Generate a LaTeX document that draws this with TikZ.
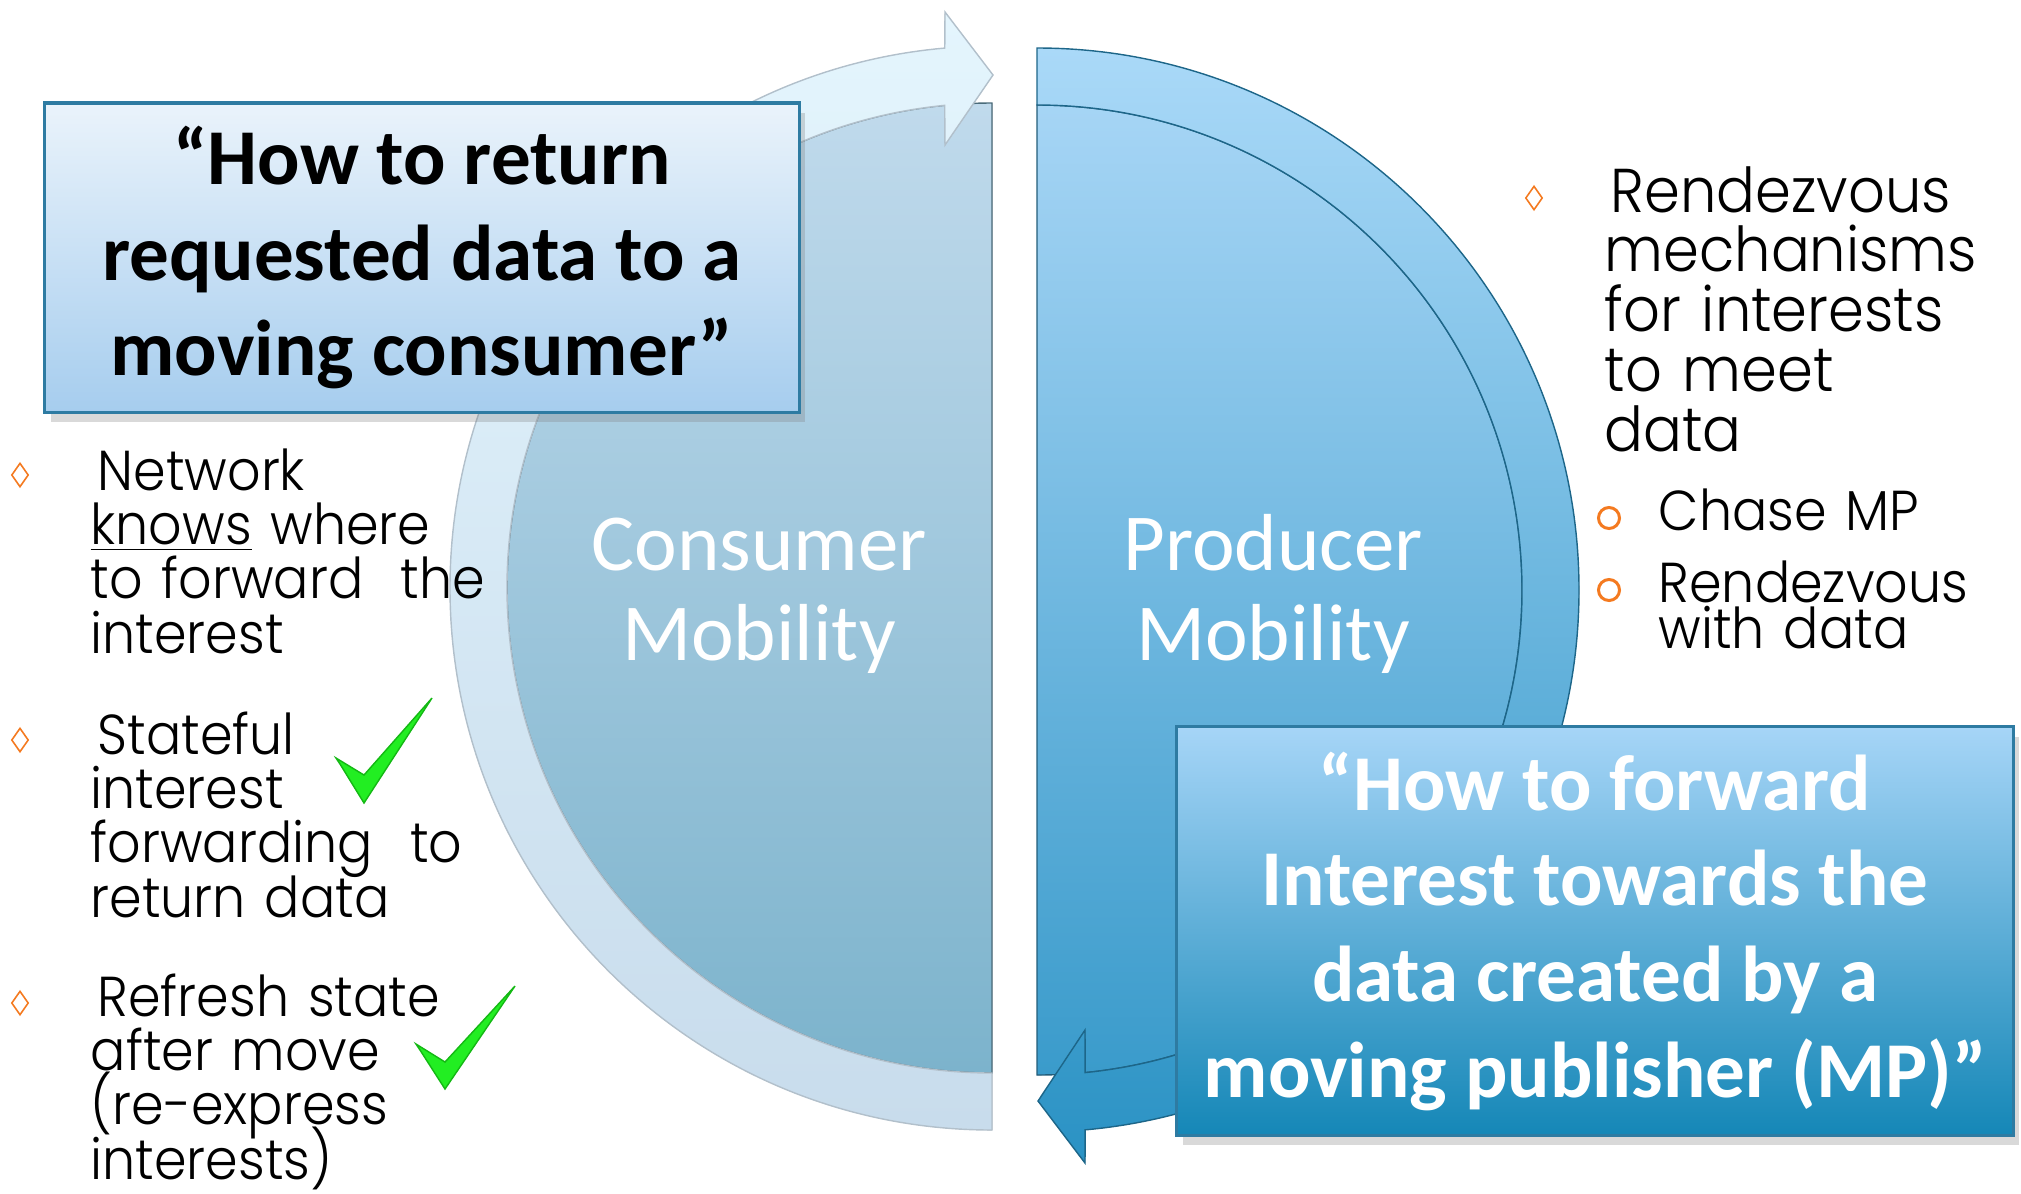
\documentclass[tikz,border=0pt]{standalone}
\usepackage{fontspec}
\usepackage{xcolor}
\usepackage{tikz}
\setmainfont{Carlito}
\newfontfamily\gothic[FakeStretch=0.93, UprightFont=* Light]{Poppins}
\newcommand{\tightskip}{\lineskiplimit=-20pt\relax}
\usetikzlibrary{shapes,positioning,shadows,calc}
\definecolor{leftringtop}{HTML}{E4F5FD}
\definecolor{leftringbot}{HTML}{C8DCEC}
\definecolor{leftdisctop}{HTML}{C0DAEC}
\definecolor{leftdiscbot}{HTML}{7CB3CC}
\definecolor{rightringtop}{HTML}{AAD9F8}
\definecolor{rightringbot}{HTML}{2A92C4}
\definecolor{rightdisctop}{HTML}{A6D5F5}
\definecolor{rightdiscbot}{HTML}{3A9BCB}
\definecolor{boxonetop}{HTML}{EAF3FB}
\definecolor{boxonebot}{HTML}{A6CDEE}
\definecolor{boxtwotop}{HTML}{A6D5F7}
\definecolor{boxtwobot}{HTML}{1587B7}
\definecolor{boxedge}{HTML}{2E7BA2}
\definecolor{bulletorange}{HTML}{F47A20}
\definecolor{checkgreen}{HTML}{22EE22}
\definecolor{checkedge}{HTML}{14B814}

\begin{document}
\begin{tikzpicture}[x=0.01cm, y=-0.01cm,
    listtext/.style={font=\gothic\fontsize{16}{15.45}\selectfont\tightskip, text width=5cm, align=left, inner sep=0pt, anchor=base west},
    righttext/.style={listtext, font=\gothic\fontsize{17.6}{17}\selectfont\tightskip},
    subtext/.style={listtext, font=\gothic\fontsize{16}{13.1}\selectfont\tightskip},
    diabullet/.style={draw=bulletorange, line width=0.45pt, shape=diamond, minimum width=1.7mm, minimum height=2.4mm, inner sep=0pt},
    circbullet/.style={draw=bulletorange, line width=0.85pt, shape=circle, minimum size=2.1mm, inner sep=0pt},
    midlabel/.style={font=\fontsize{23}{25.6}\selectfont, text=white, text width=4cm, align=center, inner sep=0pt, anchor=base},
    qbox/.style={draw=boxedge, line width=0.9pt, align=center, font=\bfseries\fontsize{22.5}{27.2}\selectfont,
        drop shadow={opacity=0.3, shadow xshift=0.6mm, shadow yshift=-1mm}},
    checkmark/.style={fill=checkgreen, draw=checkedge, line width=0.4pt}]
    \useasboundingbox (0,0) rectangle (2021,1193);

    % Centres of the two halves
    \coordinate (cl) at (992,588);
    \coordinate (cr) at (1037,590);

    % Consumer half
    \filldraw[top color=leftdisctop, bottom color=leftdiscbot, draw=leftdiscbot!60!black, line width=0.4pt]
        (cl) ++(270:485) arc[start angle=270, end angle=90, radius=485] -- cycle;
    \filldraw[top color=leftringtop, bottom color=leftringbot, draw=leftringbot!70!gray, line width=0.4pt]
        (cl) ++(90:542) arc[start angle=90, end angle=265, radius=542]
        -- (945,12) -- (993,75) -- (945,145)
        -- ($(cl)+(264.4:485)$) arc[start angle=264.4, end angle=90, radius=485] -- cycle;

    % Producer half
    \filldraw[top color=rightdisctop, bottom color=rightdiscbot, draw=rightdiscbot!60!black, line width=0.4pt]
        (cr) ++(-90:485) arc[start angle=-90, end angle=90, radius=485] -- cycle;
    \filldraw[top color=rightringtop, bottom color=rightringbot, draw=rightringbot!70!black, line width=0.4pt]
        (cr) ++(270:542) arc[start angle=270, end angle=444.9, radius=542]
        -- (1085,1163) -- (1038,1101) -- (1085,1030)
        -- ($(cr)+(84.3:485)$) arc[start angle=84.3, end angle=-90, radius=485] -- cycle;

    % Labels on the halves
    \node[midlabel] (cons) at (759,570) {Consumer\\Mobility};
    \node[midlabel] (prod) at (1273,570) {Producer\\Mobility};

    % Question boxes
    \node[qbox, top color=boxonetop, bottom color=boxonebot, text=black,
        minimum width=7.54cm, minimum height=3.09cm] (qcons) at (422,257.5)
        {“How to return\\requested data to a\\moving consumer”};
    \node[qbox, top color=boxtwotop, bottom color=boxtwobot, text=white,
        minimum width=8.36cm, minimum height=4.08cm] (qprod) at (1595,931)
        {“How to forward\\Interest towards the\\data created by a\\moving publisher (MP)”};

    % Consumer side list
    \node[diabullet] (b1) at (20,475) {};
    \node[listtext] (net) at (90,490) {\hspace*{0.7mm}Network\\\underline{knows} where\\to forward\ \ the\\interest};
    \node[diabullet] (b2) at (20,740) {};
    \node[listtext] (stf) at (90,754) {\hspace*{0.7mm}Stateful\\interest\\forwarding\ \ to\\return data};
    \node[diabullet] (b3) at (20,1003) {};
    \node[listtext] (rfr) at (90,1016) {\hspace*{0.7mm}Refresh state\\after move\\(re-express\\interests)};

    % Check marks
    \filldraw[checkmark] (336,758) -- (364,775) -- (432,698) -- (364,803) -- (340,764) -- cycle;
    \filldraw[checkmark] (416,1044) -- (445,1062) -- (515,986) -- (445,1089) -- (420,1050) -- cycle;

    % Producer side list
    \node[diabullet] (b4) at (1534,198) {};
    \node[righttext] (rdv) at (1604,212) {\hspace*{0.6mm}Rendezvous\\mechanisms\\for interests\\to meet\\data};
    \node[circbullet] (c1) at (1609,518) {};
    \node[subtext] (chase) at (1658,530) {Chase MP};
    \node[circbullet] (c2) at (1609,590) {};
    \node[subtext] (rdvd) at (1658,602) {Rendezvous\\with data};
\end{tikzpicture}
\end{document}
